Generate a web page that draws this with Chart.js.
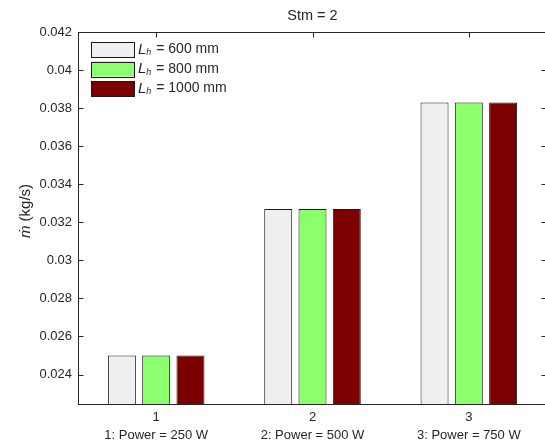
<!DOCTYPE html>
<html>
<head>
<meta charset="utf-8">
<title>Stm = 2</title>
<script src="https://cdn.jsdelivr.net/npm/chart.js@4.4.0/dist/chart.umd.min.js"></script>
<style>
  html, body { margin: 0; padding: 0; background: #fff; }
  #wrap { width: 545px; height: 441px; overflow: hidden; position: relative; }
</style>
</head>
<body>
<div id="wrap"><canvas id="chart" width="547" height="441"></canvas></div>
<script>
// ---- data ----
const categories = [
  ['1', '1: Power = 250 W'],
  ['2', '2: Power = 500 W'],
  ['3', '3: Power = 750 W']
];
const seriesNames = ['600 mm', '800 mm', '1000 mm'];
const lh600 = [0.0250, 0.0327, 0.0383];
const lh800 = [0.0250, 0.0327, 0.0383];
const lh1000 = [0.0250, 0.0327, 0.0383];
const yTicks = [0.024, 0.026, 0.028, 0.030, 0.032, 0.034, 0.036, 0.038, 0.040, 0.042];
const yMin = 0.0224;
const yMax = 0.042;

const FONT = '"Liberation Sans", Arial, Helvetica, sans-serif';
const INK = '#262626';
const fills = ['#efeff1', '#8cff6e', '#7c0000'];

// ---- axes frame, inward ticks, title, y label, legend ----
const framePlugin = {
  id: 'frame',
  beforeDatasetsDraw(chart) {
    const { ctx, chartArea: a, scales } = chart;
    const B = Math.round(a.bottom) - 0.5;
    ctx.save();
    ctx.strokeStyle = INK;
    ctx.lineWidth = 1;
    ctx.beginPath();
    categories.forEach((c, i) => {
      const x = Math.round(scales.x.getPixelForValue(i)) + 0.5;
      ctx.moveTo(x, B); ctx.lineTo(x, B - 5);
    });
    ctx.stroke();
    ctx.restore();
  },
  afterDatasetsDraw(chart) {
    const { ctx, chartArea: a, scales } = chart;
    const L = Math.round(a.left) + 0.5;
    const R = Math.round(a.right) - 0.5;
    const T = Math.round(a.top) + 0.5;
    const B = Math.round(a.bottom) - 0.5;
    ctx.save();
    ctx.strokeStyle = INK;
    ctx.lineWidth = 1;
    ctx.strokeRect(L, T, R - L, B - T);
    ctx.beginPath();
    yTicks.forEach(v => {
      const y = Math.round(scales.y.getPixelForValue(v)) + 0.5;
      ctx.moveTo(L, y); ctx.lineTo(L + 5, y);
      ctx.moveTo(R, y); ctx.lineTo(R - 5, y);
    });
    categories.forEach((c, i) => {
      const x = Math.round(scales.x.getPixelForValue(i)) + 0.5;
      ctx.moveTo(x, T); ctx.lineTo(x, T + 5);
    });
    ctx.stroke();

    // title
    ctx.fillStyle = INK;
    ctx.font = '14.5px ' + FONT;
    ctx.textAlign = 'center';
    ctx.textBaseline = 'middle';
    ctx.fillText('Stm = 2', (a.left + a.right) / 2, 16);

    // y label: italic m-dot + (kg/s)
    ctx.save();
    ctx.translate(26, 211);
    ctx.rotate(-Math.PI / 2);
    ctx.textAlign = 'left';
    ctx.textBaseline = 'middle';
    const f1 = 'italic 15px ' + FONT, f2 = '15px ' + FONT;
    ctx.font = f1; const w1 = ctx.measureText('ṁ').width;
    ctx.font = f2; const w2 = ctx.measureText(' (kg/s)').width;
    let x0 = -(w1 + w2) / 2;
    ctx.font = f1; ctx.fillText('ṁ', x0, 0);
    ctx.font = f2; ctx.fillText(' (kg/s)', x0 + w1, 0);
    ctx.restore();

    // legend
    chart.data.datasets.forEach((ds, i) => {
      const cy = 49.5 + i * 19.5;
      ctx.fillStyle = ds.backgroundColor;
      ctx.fillRect(91, cy - 7.5, 43, 15);
      ctx.strokeStyle = '#1a1a1a';
      ctx.strokeRect(91.5, Math.round(cy - 7.5) + 0.5, 43, 15);
      ctx.fillStyle = INK;
      ctx.textAlign = 'left';
      ctx.textBaseline = 'middle';
      ctx.font = 'italic 15px ' + FONT;
      ctx.fillText('L', 138, cy);
      const wl = ctx.measureText('L').width;
      ctx.font = 'italic 9px ' + FONT;
      ctx.fillText('h', 138 + wl, cy + 3);
      const wh = ctx.measureText('h').width;
      ctx.font = '14px ' + FONT;
      ctx.fillText(' = ' + seriesNames[i], 138 + wl + wh + 1, cy);
    });
    ctx.restore();
  }
};

const mkSet = (data, i) => ({
  label: seriesNames[i],
  data,
  backgroundColor: fills[i],
  borderColor: '#1a1a1a',
  borderWidth: 1,
  borderSkipped: 'start',
  categoryPercentage: 0.658,
  barPercentage: 0.816
});

new Chart(document.getElementById('chart'), {
  type: 'bar',
  data: {
    labels: categories,
    datasets: [mkSet(lh600, 0), mkSet(lh800, 1), mkSet(lh1000, 2)]
  },
  options: {
    responsive: false,
    animation: false,
    devicePixelRatio: 1,
    layout: { padding: { top: 32, left: 0, right: 0, bottom: 0 } },
    plugins: {
      legend: { display: false },
      title: { display: false },
      tooltip: { enabled: false }
    },
    scales: {
      x: {
        grid: { display: false, drawTicks: false },
        border: { display: false },
        ticks: { color: INK, font: { family: FONT, size: 13, lineHeight: 1.45 }, padding: 2.5, maxRotation: 0 },
        afterFit(s) { s.height = 36; }
      },
      y: {
        min: yMin,
        max: yMax,
        grid: { display: false, drawTicks: false },
        border: { display: false },
        afterBuildTicks(s) { s.ticks = yTicks.map(v => ({ value: v })); },
        ticks: {
          color: INK,
          font: { family: FONT, size: 13 },
          padding: 6,
          callback: v => String(+v.toFixed(3))
        },
        afterFit(s) { s.width = 78; }
      }
    }
  },
  plugins: [framePlugin]
});
</script>
</body>
</html>
